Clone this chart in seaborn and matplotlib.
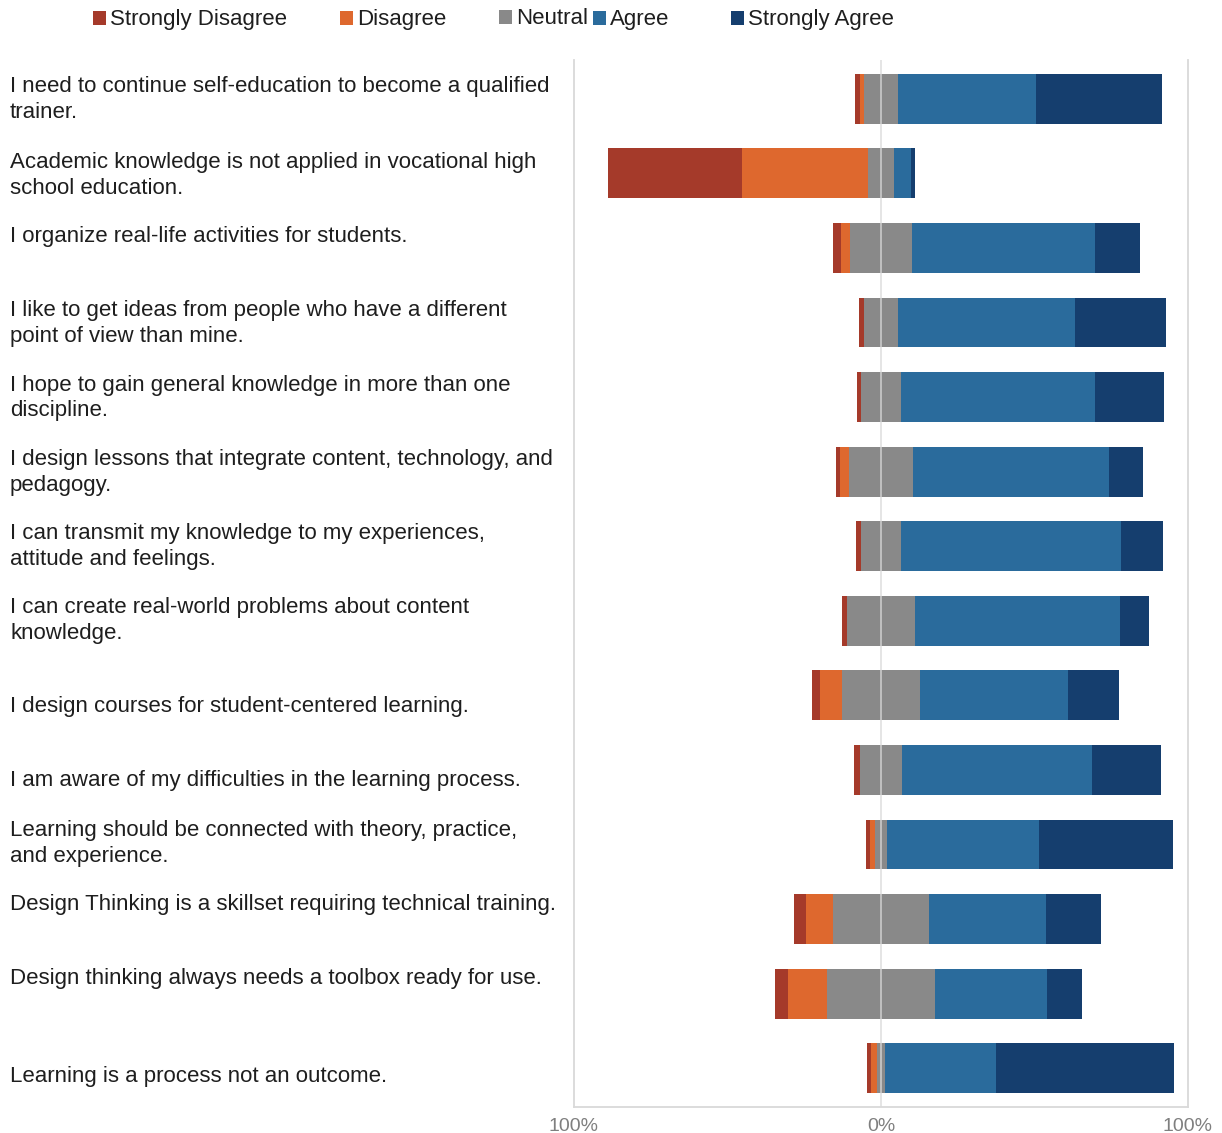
import matplotlib
matplotlib.use("Agg")
import matplotlib.pyplot as plt
from matplotlib.patches import Patch
import seaborn as sns
import pandas as pd

# Survey statements (top to bottom)
statements = [
    "I need to continue self-education to become a qualified\ntrainer.",
    "Academic knowledge is not applied in vocational high\nschool education.",
    "I organize real-life activities for students.",
    "I like to get ideas from people who have a different\npoint of view than mine.",
    "I hope to gain general knowledge in more than one\ndiscipline.",
    "I design lessons that integrate content, technology, and\npedagogy.",
    "I can transmit my knowledge to my experiences,\nattitude and feelings.",
    "I can create real-world problems about content\nknowledge.",
    "I design courses for student-centered learning.",
    "I am aware of my difficulties in the learning process.",
    "Learning should be connected with theory, practice,\nand experience.",
    "Design Thinking is a skillset requiring technical training.",
    "Design thinking always needs a toolbox ready for use.",
    "Learning is a process not an outcome.",
]

# Response shares in percent
strongly_disagree = [1.6, 43.6, 2.7, 1.6, 1.5, 1.0, 1.6, 1.5, 2.6, 1.8, 1.2, 4.2, 4.1, 1.5]
disagree          = [1.2, 41.0, 3.0, 0.0, 0.0, 3.0, 0.0, 0.0, 7.2, 0.0, 1.5, 8.7, 12.8, 1.9]
neutral           = [11.2, 8.6, 20.0, 11.1, 12.9, 21.0, 13.0, 22.4, 25.2, 13.9, 4.2, 31.2, 35.0, 2.6]
agree             = [44.8, 5.5, 59.8, 57.7, 63.3, 63.8, 71.6, 66.5, 48.3, 61.8, 49.5, 38.0, 36.7, 36.3]
strongly_agree    = [41.2, 1.3, 14.5, 29.6, 22.3, 11.2, 13.8, 9.6, 16.7, 22.5, 43.6, 17.9, 11.4, 57.7]

# Vertical nudges (pixels, + = down) for the statement texts
label_nudge = [1, 2.5, -11.5, 1, 1, 1, 0, 0, 11.5, 10.5, -1, -14.5, -15.5, 8.5]

levels = ["Strongly Disagree", "Disagree", "Neutral", "Agree", "Strongly Agree"]
colors = {
    "Strongly Disagree": "#A53A2A",
    "Disagree": "#DE682E",
    "Neutral": "#898989",
    "Agree": "#2A6B9C",
    "Strongly Agree": "#153E6E",
}

df = pd.DataFrame({
    "statement": statements,
    "sd": strongly_disagree,
    "d": disagree,
    "n": neutral,
    "a": agree,
    "sa": strongly_agree,
})
# Cumulative extents for the diverging stack (neutral split around 0)
df["half_n"] = df["n"] / 2
df["right_sa"] = df["half_n"] + df["a"] + df["sa"]
df["right_a"] = df["half_n"] + df["a"]
df["right_n"] = df["half_n"]
df["left_sd"] = -(df["half_n"] + df["d"] + df["sd"])
df["left_d"] = -(df["half_n"] + df["d"])
df["left_n"] = -df["half_n"]

sns.set_theme(style="white")
plt.rcParams["font.family"] = ["Liberation Sans", "DejaVu Sans"]

fig = plt.figure(figsize=(12.22, 11.33), dpi=100)
ax = fig.add_axes([574 / 1222, 1 - 1107 / 1133, (1188 - 574) / 1222, (1107 - 60) / 1133])

layers = [
    ("right_sa", "Strongly Agree"),
    ("right_a", "Agree"),
    ("right_n", "Neutral"),
    ("left_sd", "Strongly Disagree"),
    ("left_d", "Disagree"),
    ("left_n", "Neutral"),
]
for col, lvl in layers:
    sns.barplot(data=df, x=col, y="statement", orient="h", color=colors[lvl],
                saturation=1, width=0.67, edgecolor="none", linewidth=0, ax=ax)

ax.set_xlim(-100, 100)
ax.set_ylim(len(statements) - 0.48, -0.52)
ax.set_xlabel("")
ax.set_ylabel("")

grid_c = "#D9D9D9"
for side in ["left", "right", "bottom"]:
    ax.spines[side].set_visible(True)
    ax.spines[side].set_color(grid_c)
    ax.spines[side].set_linewidth(1.3)
ax.spines["top"].set_visible(False)
ax.axvline(0, color="#DADADA", lw=1.3, alpha=0.75, zorder=10)

ax.set_xticks([-100, 0, 100])
ax.set_xticklabels(["100%", "0%", "100%"])
ax.tick_params(axis="x", length=0, pad=8, labelsize=14, labelcolor="#7F7F7F")
ax.set_yticks(range(len(statements)))
ax.set_yticklabels([])
ax.tick_params(axis="y", length=0)

# Statement texts, left-aligned at the figure edge
for i, (txt, nudge) in enumerate(zip(statements, label_nudge)):
    ax.annotate(txt, xy=(10 / 1222, i), xycoords=("figure fraction", "data"),
                xytext=(0, -nudge), textcoords="offset pixels",
                ha="left", va="center", fontsize=16, color="#1E1E1E",
                linespacing=1.3, annotation_clip=False)

# Legend entries along the top
legend_x = [93, 340, 499, 593, 731]
legend_y = [20, 20, 19, 20, 20]
for lvl, xpx, ypx in zip(levels, legend_x, legend_y):
    fig.legend(handles=[Patch(facecolor=colors[lvl], edgecolor="none", label=lvl)],
               loc="center left", bbox_to_anchor=(xpx / 1222, 1 - ypx / 1133),
               frameon=False, fontsize=16, handlelength=0.6, handleheight=0.6,
               handletextpad=0.15, borderpad=0, borderaxespad=0,
               labelcolor="#1E1E1E")

fig.savefig("out.png", dpi=100)
